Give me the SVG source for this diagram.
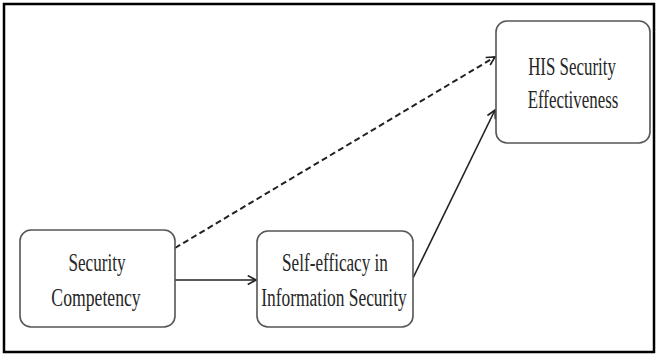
<svg xmlns="http://www.w3.org/2000/svg" width="658" height="356" viewBox="0 0 658 356">
  <style>
    .frame { fill: #ffffff; stroke: #000000; stroke-width: 2.5; }
    .node rect { fill: #ffffff; stroke: #555555; stroke-width: 1.6; }
    .label { font-family: 'Liberation Serif', serif; font-size: 26px; fill: #262626; text-anchor: middle; }
    .edge { fill: none; stroke: #222222; stroke-width: 1.6; }
    .dashed { stroke-width: 2; stroke-dasharray: 6 3.5; }
  </style>
  <defs>
    <marker id="arrow" viewBox="0 0 10 10" refX="9" refY="5" markerWidth="11" markerHeight="11" markerUnits="userSpaceOnUse" orient="auto">
      <path d="M1.5,1 L9,5 L1.5,9" fill="none" stroke="#222222" stroke-width="1.5"/>
    </marker>
  </defs>

  <rect class="frame" x="4" y="4" width="650" height="348"/>

  <g id="connectors">
    <line class="edge" x1="175" y1="280" x2="256" y2="280" stroke-width="2.4" marker-end="url(#arrow)"/>
    <line class="edge dashed" x1="175" y1="248" x2="495" y2="57" marker-end="url(#arrow)"/>
    <line class="edge" x1="413" y1="278" x2="495" y2="110" marker-end="url(#arrow)"/>
  </g>

  <!-- labels use a narrow serif: horizontal scale ~0.66 -->
  <g id="security-competency" class="node">
    <rect x="20" y="230" width="155" height="97" rx="11"/>
    <text class="label" transform="translate(97 271) scale(0.66 1)">Security</text>
    <text class="label" transform="translate(96 306) scale(0.68 1)">Competency</text>
  </g>

  <g id="self-efficacy" class="node">
    <rect x="257" y="231" width="156" height="96" rx="11"/>
    <text class="label" transform="translate(335 271) scale(0.66 1)">Self-efficacy in</text>
    <text class="label" transform="translate(334 306) scale(0.67 1)">Information Security</text>
  </g>

  <g id="his-security-effectiveness" class="node">
    <rect x="496" y="21" width="154" height="122" rx="11"/>
    <text class="label" transform="translate(572 75) scale(0.65 1)">HIS Security</text>
    <text class="label" transform="translate(573 108) scale(0.65 1)">Effectiveness</text>
  </g>
</svg>
